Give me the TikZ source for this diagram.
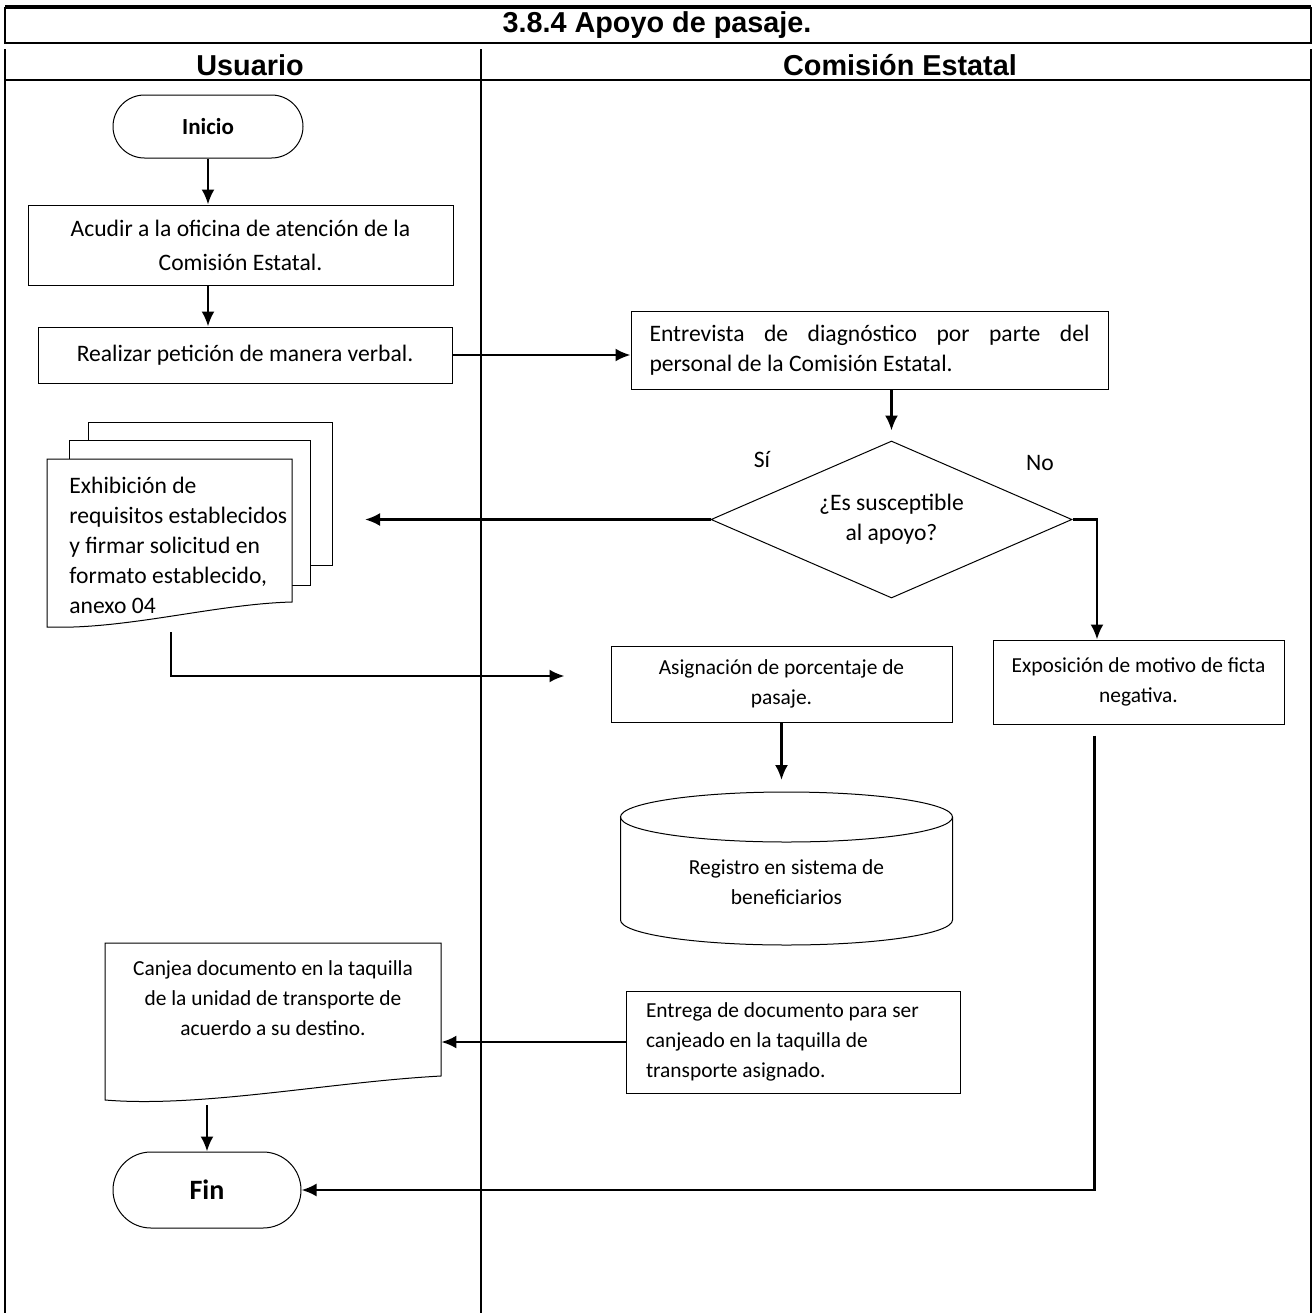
\documentclass[tikz,border=0pt]{standalone}
\usepackage{fontspec}
\setmainfont{Carlito}
\newfontfamily\arialfont{Liberation Sans}
\usetikzlibrary{shapes.geometric,arrows.meta,calc}
\hyphenpenalty=10000
\tolerance=10000
\tikzset{
 texto/.style={font=\fontsize{11.8}{15}\selectfont},
 textochico/.style={font=\fontsize{10.7}{15}\selectfont},
 caja/.style={draw,line width=0.5pt,inner sep=0pt,align=center,texto},
 terminal/.style={draw,line width=0.5pt,inner sep=0pt,font=\bfseries\fontsize{11.5}{15}\selectfont},
 decision/.style={diamond,aspect=2.3,draw,line width=0.5pt,inner sep=0pt,align=center,texto},
 encabezado/.style={font=\arialfont\bfseries\fontsize{14.4}{17}\selectfont},
 flecha/.style={line width=1.2pt,-{Latex[length=7.5pt,width=6.5pt]}},
 marco/.style={line width=1pt},
 hoja/.style={draw,line width=0.5pt,fill=white}
}
\begin{document}
\begin{tikzpicture}[x=0.5pt,y=-0.5pt]
\useasboundingbox (0,0) rectangle (1314,1313);
\draw[line width=1.6pt](5,7)--(1311,7);
\draw[marco](5,7)--(5,43)--(1311,43)--(1311,7);
\draw[marco](5,49)--(5,1313);
\draw[marco](1311,49)--(1311,1313);
\draw[marco](481,49)--(481,1313);
\draw[marco](5,80)--(1311,80);
\node[encabezado] (titulo) at (657,25) {3.8.4 Apoyo de pasaje.};
\node[encabezado] (usuario) at (250,65) {Usuario};
\node[encabezado] (comision) at (900,65) {Comisión Estatal};
\node[terminal,minimum width=95pt,minimum height=31.5pt,rounded corners=15.75pt] (inicio) at (208,126.5) {Inicio};
\node[caja,minimum width=212.5pt,minimum height=40pt] (acudir) at (240.5,245) {Acudir a la oficina de atención de la\\[2pt]Comisión Estatal.};
\node[caja,minimum width=207pt,minimum height=28pt] (peticion) at (245,355) {Realizar petición de manera verbal.};
\node[caja,minimum width=238.5pt,minimum height=39pt,text width=220pt,align=justify] (entrevista) at (869.5,350) {Entrevista de diagnóstico por parte del personal de la Comisión Estatal.};
\node[decision,minimum width=180.5pt,minimum height=78.5pt] (decision) at (891.5,519.5) {¿Es susceptible\\al apoyo?};
\node[texto] (lsi) at (762,460) {Sí};
\node[texto] (lno) at (1040,463) {No};
\draw[hoja](88,422) rectangle (332,565);
\draw[hoja](69,440) rectangle (310,585);
\draw[hoja](47,459)--(292,459)--(292,602) .. controls (215,604) and (125,630) .. (47,627)--cycle;
\node[texto,align=flush left,text width=118pt,inner sep=0pt,anchor=west] (exhibicion) at (69,545) {Exhibición de\\requisitos establecidos\\y firmar solicitud en\\formato establecido,\\anexo 04};
\node[caja,textochico,minimum width=170.5pt,minimum height=38pt] (asignacion) at (781.5,684) {Asignación de porcentaje de\\pasaje.};
\node[caja,textochico,minimum width=145.5pt,minimum height=42pt] (exposicion) at (1138.5,682) {Exposición de motivo de ficta\\negativa.};
\draw[line width=0.5pt](786.5,817) ellipse [x radius=83pt,y radius=12.5pt];
\draw[line width=0.5pt](620.5,817)--(620.5,920) arc[start angle=180,end angle=360,x radius=83pt,y radius=12.5pt]--(952.5,817);
\node[textochico,align=center] (registro) at (786.5,882) {Registro en sistema de\\beneficiarios};
\draw[hoja](105,943)--(441,943)--(441,1076) .. controls (330,1082) and (200,1108) .. (105,1100)--cycle;
\node[textochico,minimum width=168pt,minimum height=55pt,inner sep=0pt,align=center] (canjea) at (273,998) {Canjea documento en la taquilla\\de la unidad de transporte de\\acuerdo a su destino.};
\node[caja,textochico,minimum width=167pt,minimum height=51pt,text width=147pt,align=flush left] (entrega) at (793,1042) {Entrega de documento para ser\\canjeado en la taquilla de\\transporte asignado.};
\node[terminal,minimum width=94pt,minimum height=38pt,rounded corners=19pt,font=\bfseries\fontsize{14}{16}\selectfont] (fin) at (207,1190) {Fin};
\coordinate (si_fin) at (365,525);
\coordinate (exh_sal) at (171,632);
\draw[flecha](inicio.south)--(inicio.south|-acudir.north);
\draw[flecha](acudir.south-|inicio.south)--(peticion.north-|inicio.south);
\draw[flecha](peticion.east)--(peticion.east-|entrevista.west);
\draw[flecha,shorten >=5pt](entrevista.south-|decision.north)--(decision.north);
\draw[flecha](decision.west)--(decision.west-|si_fin);
\draw[flecha](decision.east)-|([xshift=-20.75pt]exposicion.north);
\draw[flecha](exh_sal)|-([xshift=-23pt,yshift=4pt]asignacion.west);
\draw[flecha,shorten >=6pt](asignacion.south)--(asignacion.south|-{(786.5,792)});
\draw[flecha](entrega.west)--(entrega.west-|canjea.east);
\draw[flecha]($(canjea.south-|fin.north)+(0,52)$)--(fin.north);
\draw[flecha]([xshift=-22pt,yshift=-5.5pt]exposicion.south)|-(fin.east);
\end{tikzpicture}
\end{document}
